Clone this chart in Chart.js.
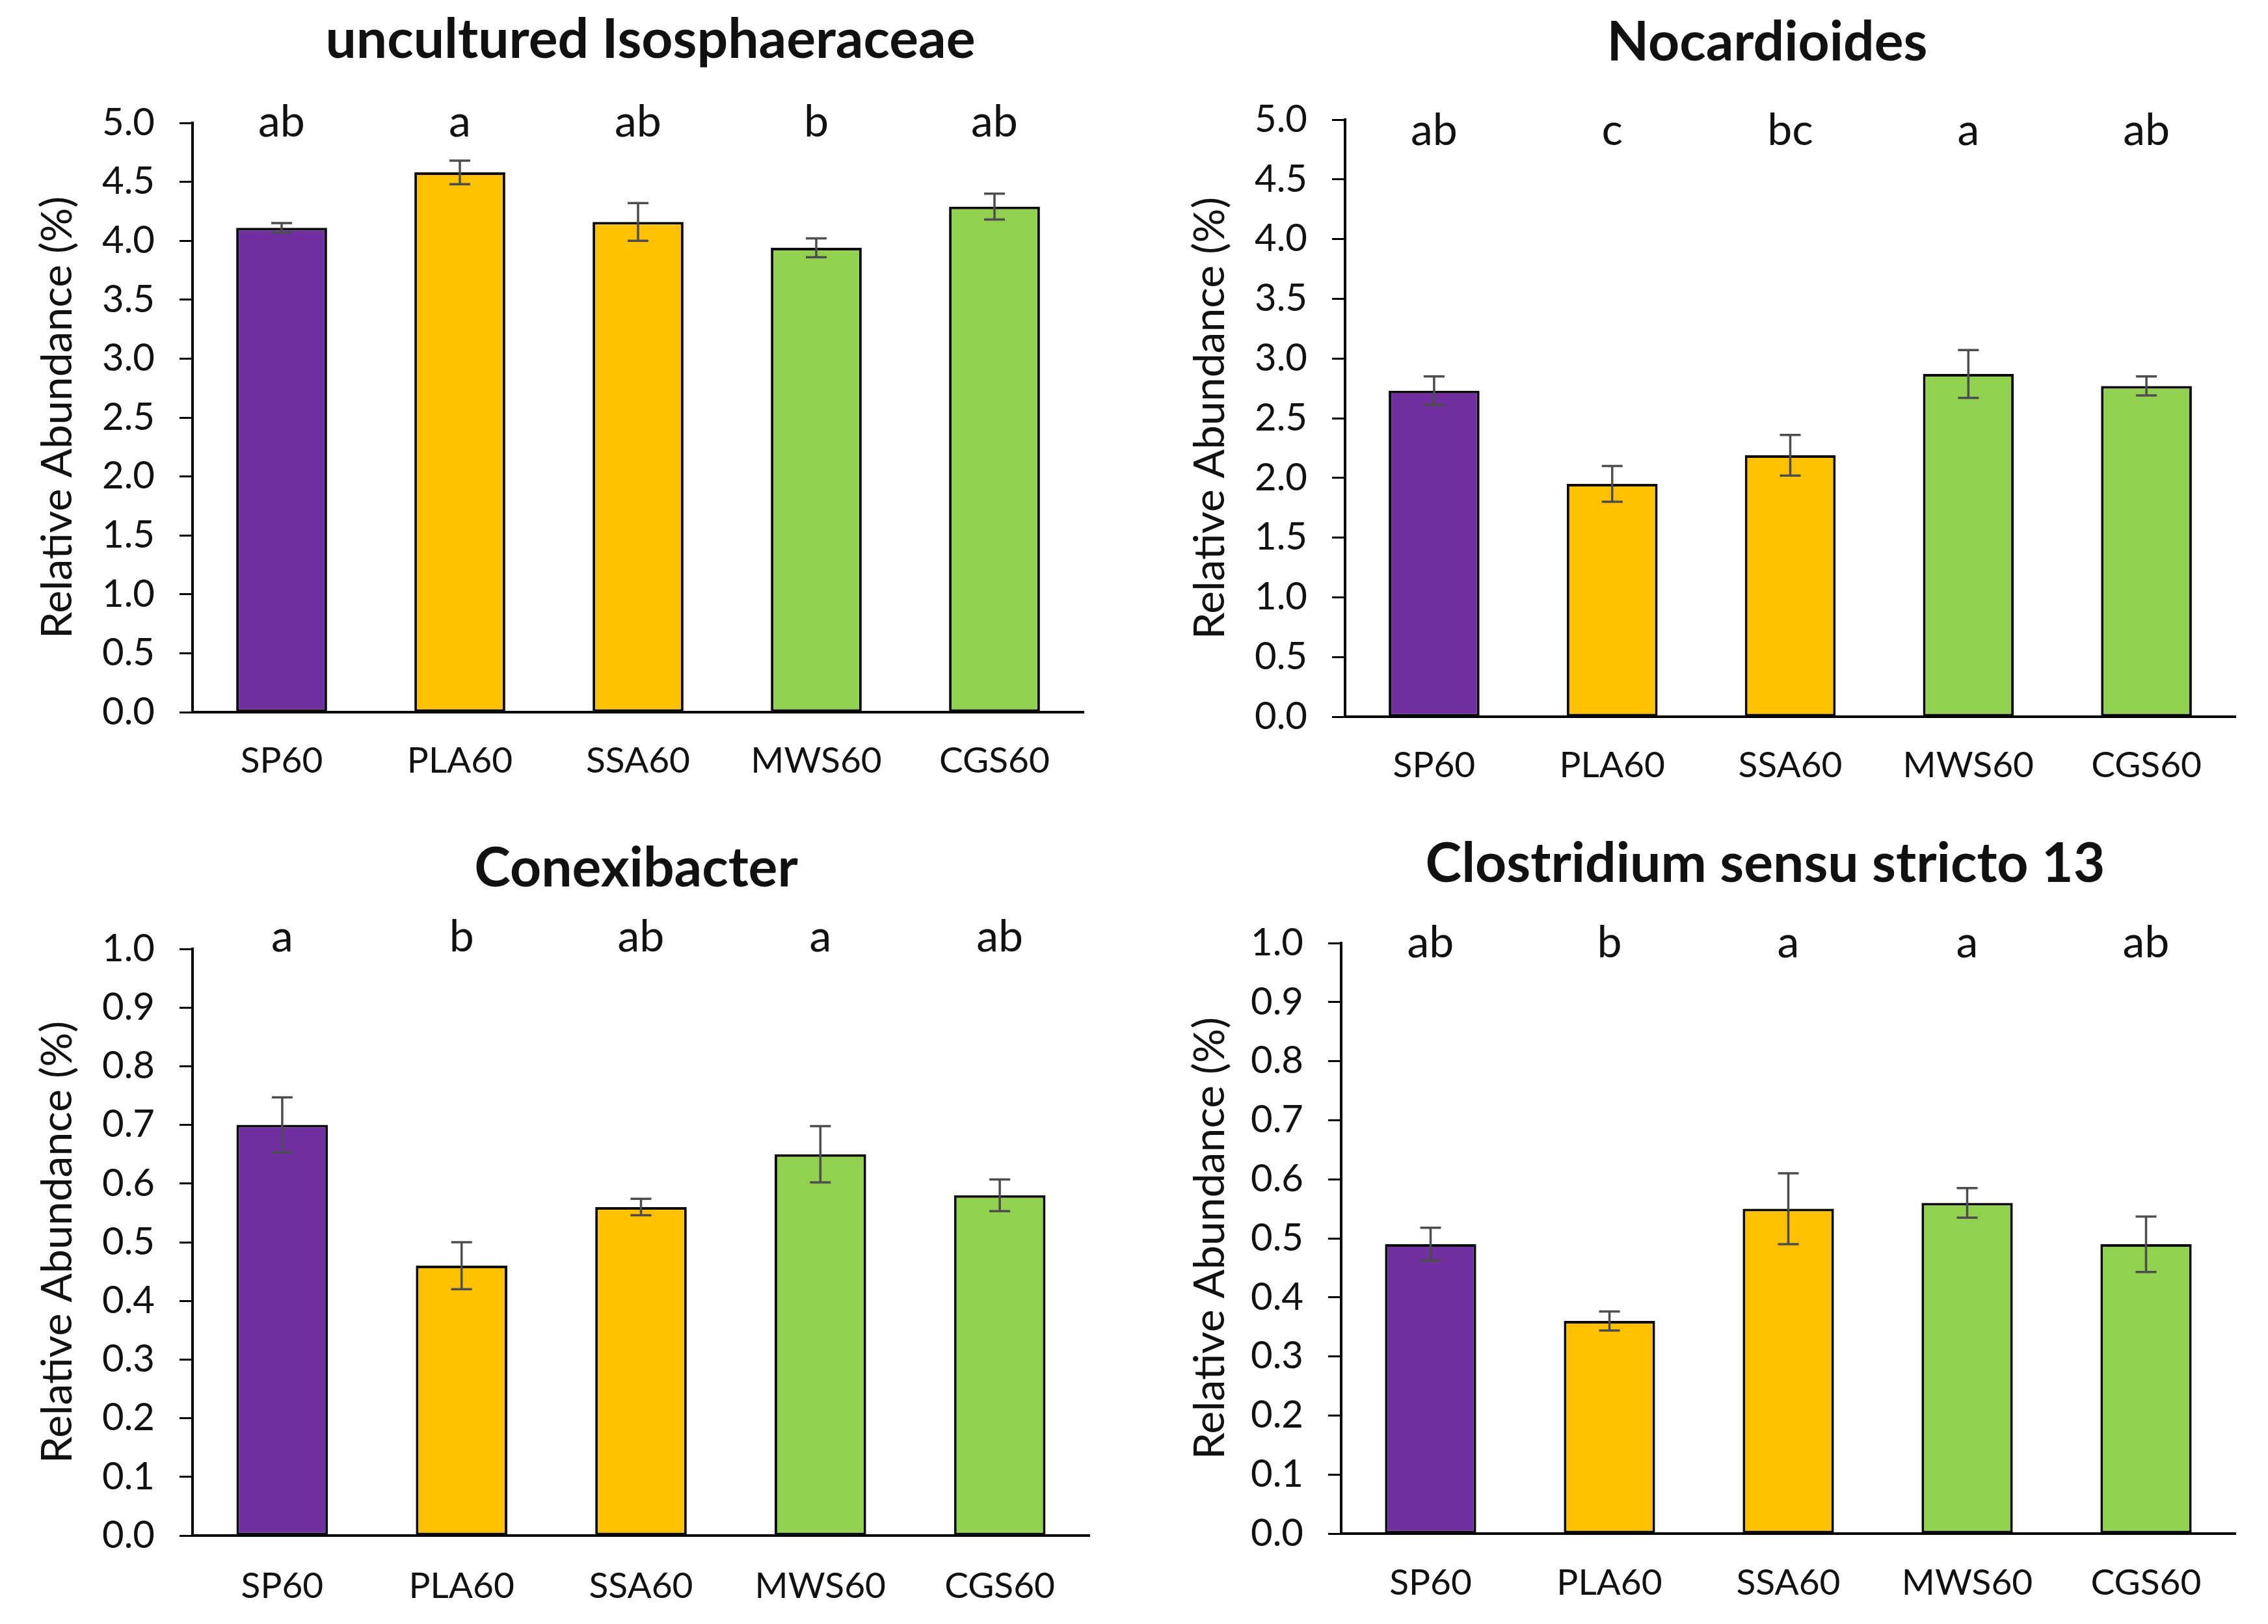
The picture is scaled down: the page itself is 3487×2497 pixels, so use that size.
<!DOCTYPE html>
<html>
<head>
<meta charset="utf-8">
<script src="https://cdn.jsdelivr.net/npm/chart.js@4.4.1/dist/chart.umd.min.js"></script>
<style>
  html, body { margin: 0; padding: 0; background: #fff; }
  body { width: 3487px; height: 2497px; position: relative; overflow: hidden; }
  canvas { position: absolute; }
</style>
</head>
<body>
<canvas id="iso"></canvas>
<canvas id="noc"></canvas>
<canvas id="con"></canvas>
<canvas id="clo"></canvas>
<script>
// ---- data ----
const categories = ['SP60', 'PLA60', 'SSA60', 'MWS60', 'CGS60'];
const barColors = ['#7030A0', '#FFC000', '#FFC000', '#92D050', '#92D050'];

const isoMeans = [4.11, 4.58, 4.16, 3.94, 4.29];
const isoErrors = [0.04, 0.10, 0.16, 0.08, 0.11];
const isoLetters = ['ab', 'a', 'ab', 'b', 'ab'];

const nocMeans = [2.73, 1.95, 2.19, 2.87, 2.77];
const nocErrors = [0.12, 0.15, 0.17, 0.20, 0.08];
const nocLetters = ['ab', 'c', 'bc', 'a', 'ab'];

const conMeans = [0.70, 0.46, 0.56, 0.65, 0.58];
const conErrors = [0.047, 0.040, 0.014, 0.048, 0.027];
const conLetters = ['a', 'b', 'ab', 'a', 'ab'];

const cloMeans = [0.49, 0.36, 0.55, 0.56, 0.49];
const cloErrors = [0.028, 0.016, 0.060, 0.025, 0.047];
const cloLetters = ['ab', 'b', 'a', 'a', 'ab'];

// y axis ranges: [min, max, step]
const yRangeLarge = [0, 5, 0.5];
const yRangeSmall = [0, 1, 0.1];

const Y_TITLE = 'Relative Abundance (%)';
const FONT = 'Lato';
const TEXT = '#111';

// ---- panels ----
const panels = [
  { id: 'iso', title: 'uncultured Isosphaeraceae', means: isoMeans, errors: isoErrors, letters: isoLetters, range: yRangeLarge,
    box: { left: 0, top: 0, w: 1744, h: 1250 }, area: { left: 296, top: 189, right: 1666, bottom: 1095 },
    yTitlePad: 49, xPad: 42, letterY: 210, titleX: 1000, titleY: 89 },
  { id: 'noc', title: 'Nocardioides', means: nocMeans, errors: nocErrors, letters: nocLetters, range: yRangeLarge,
    box: { left: 1744, top: 0, w: 1743, h: 1250 }, area: { left: 324, top: 184, right: 1693, bottom: 1102 },
    yTitlePad: 77, xPad: 42, letterY: 223, titleX: 973, titleY: 93 },
  { id: 'con', title: 'Conexibacter', means: conMeans, errors: conErrors, letters: conLetters, range: yRangeSmall,
    box: { left: 0, top: 1250, w: 1744, h: 1247 }, area: { left: 296, top: 209, right: 1675, bottom: 1111 },
    yTitlePad: 49, xPad: 45, letterY: 213, titleX: 978, titleY: 113 },
  { id: 'clo', title: 'Clostridium sensu stricto 13', means: cloMeans, errors: cloErrors, letters: cloLetters, range: yRangeSmall,
    box: { left: 1744, top: 1250, w: 1743, h: 1247 }, area: { left: 318, top: 200, right: 1693, bottom: 1108 },
    yTitlePad: 77, xPad: 43, letterY: 222, titleX: 970, titleY: 106 }
];

// error bars, significance letters and the panel title
function annotations(p) {
  return {
    id: 'annotations-' + p.id,
    afterDatasetsDraw(chart) {
      const { ctx, scales: { x, y } } = chart;
      ctx.save();
      ctx.strokeStyle = '#4d4d4d';
      ctx.lineWidth = 3.5;
      p.means.forEach((m, i) => {
        const px = x.getPixelForValue(i);
        const hi = y.getPixelForValue(m + p.errors[i]);
        const lo = y.getPixelForValue(m - p.errors[i]);
        ctx.beginPath();
        ctx.moveTo(px, hi); ctx.lineTo(px, lo);
        ctx.moveTo(px - 16, hi); ctx.lineTo(px + 16, hi);
        ctx.moveTo(px - 16, lo); ctx.lineTo(px + 16, lo);
        ctx.stroke();
      });
      ctx.fillStyle = TEXT;
      ctx.textAlign = 'center';
      ctx.textBaseline = 'alphabetic';
      ctx.font = '68px ' + FONT;
      p.letters.forEach((t, i) => ctx.fillText(t, x.getPixelForValue(i), p.letterY));
      ctx.font = 'bold 84px ' + FONT;
      ctx.fillText(p.title, p.titleX, p.titleY);
      ctx.restore();
    }
  };
}

function renderPanel(p) {
  const canvas = document.getElementById(p.id);
  canvas.width = p.box.w;
  canvas.height = p.box.h;
  canvas.style.left = p.box.left + 'px';
  canvas.style.top = p.box.top + 'px';
  canvas.style.width = p.box.w + 'px';
  canvas.style.height = p.box.h + 'px';

  new Chart(canvas, {
    type: 'bar',
    data: {
      labels: categories,
      datasets: [{
        data: p.means,
        backgroundColor: barColors,
        borderColor: '#0a0a0a',
        borderWidth: 4,
        borderSkipped: false,
        barPercentage: 0.51,
        categoryPercentage: 1.0
      }]
    },
    options: {
      responsive: false,
      animation: false,
      devicePixelRatio: 1,
      layout: { padding: { left: 0, top: p.area.top, right: p.box.w - p.area.right, bottom: 0 } },
      plugins: { legend: { display: false }, tooltip: { enabled: false } },
      scales: {
        x: {
          grid: { display: false, drawTicks: false },
          border: { display: true, color: '#000', width: 4 },
          ticks: { color: TEXT, font: { family: FONT, size: 55 }, padding: p.xPad, maxRotation: 0 },
          afterFit: s => { s.height = p.box.h - p.area.bottom; }
        },
        y: {
          min: p.range[0],
          max: p.range[1],
          grid: { drawOnChartArea: false, drawTicks: true, tickLength: 20, tickWidth: 3, tickColor: '#000' },
          border: { display: true, color: '#000', width: 4 },
          ticks: { stepSize: p.range[2], color: TEXT, font: { family: FONT, size: 58 }, padding: 38,
                   callback: v => Number(v).toFixed(1) },
          title: { display: true, text: Y_TITLE, color: TEXT, font: { family: FONT, size: 66 }, padding: { top: p.yTitlePad, bottom: 0 } },
          afterFit: s => { s.width = p.area.left; }
        }
      }
    },
    plugins: [annotations(p)]
  });
}

panels.forEach(renderPanel);
</script>
</body>
</html>
